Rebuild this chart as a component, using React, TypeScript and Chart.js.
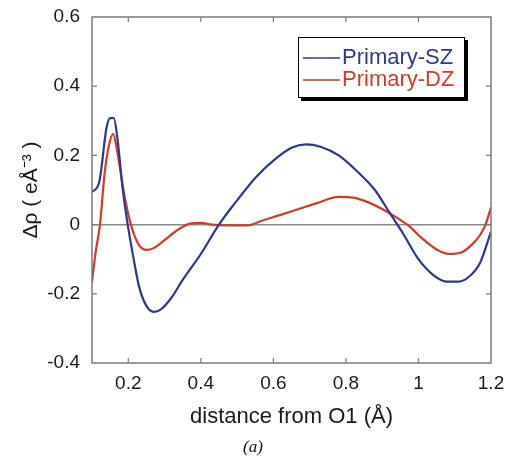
import React, { useEffect, useRef } from "react";
import { Chart, registerables } from "chart.js";

Chart.register(...registerables);

// distance from O1 (Å)
const szX = [0.1, 0.12, 0.14, 0.15, 0.16, 0.17, 0.185, 0.2, 0.215, 0.23, 0.25, 0.27, 0.29, 0.32, 0.35, 0.4, 0.45, 0.5, 0.55, 0.6, 0.65, 0.69, 0.73, 0.78, 0.83, 0.88, 0.92, 0.96, 1.0, 1.04, 1.08, 1.11, 1.14, 1.17, 1.2];
const szY = [0.094, 0.123, 0.28, 0.308, 0.308, 0.25, 0.1, -0.01, -0.1, -0.18, -0.235, -0.252, -0.245, -0.21, -0.16, -0.085, 0.0, 0.07, 0.135, 0.185, 0.222, 0.232, 0.225, 0.2, 0.155, 0.1, 0.035, -0.03, -0.1, -0.145, -0.165, -0.165, -0.15, -0.11, -0.02];

const dzX = [0.1, 0.11, 0.122, 0.135, 0.145, 0.158, 0.17, 0.185, 0.2, 0.213, 0.23, 0.25, 0.27, 0.3, 0.33, 0.37, 0.4, 0.43, 0.47, 0.53, 0.57, 0.62, 0.67, 0.72, 0.78, 0.82, 0.86, 0.9, 0.94, 0.975, 1.01, 1.05, 1.085, 1.12, 1.15, 1.17, 1.185, 1.2];
const dzY = [-0.166, -0.08, 0.0, 0.15, 0.22, 0.262, 0.21, 0.11, 0.03, -0.02, -0.06, -0.073, -0.068, -0.045, -0.02, 0.003, 0.005, 0.0, -0.002, -0.002, 0.012, 0.028, 0.045, 0.062, 0.08, 0.078, 0.065, 0.045, 0.02, -0.005, -0.04, -0.072, -0.085, -0.08, -0.055, -0.03, 0.0, 0.05];

const xTicks = [0.2, 0.4, 0.6, 0.8, 1, 1.2];
const yTicks = [-0.4, -0.2, 0, 0.2, 0.4, 0.6];
const seriesNames = ["Primary-SZ", "Primary-DZ"];
const seriesColors = ["#2b3a8c", "#d8372b"];

const SANS = "'Liberation Sans', Arial, sans-serif";

const framePlugin = {
  id: "frame",
  afterDatasetsDraw(chart: any) {
    const { ctx, chartArea: a, scales } = chart;
    const xs = scales.x;
    const ys = scales.y;
    ctx.save();
    ctx.strokeStyle = "#7a7a7a";
    ctx.lineWidth = 1.5;
    ctx.strokeRect(a.left, a.top, a.right - a.left, a.bottom - a.top);
    ctx.lineWidth = 1.2;
    const tl = 5;
    ctx.beginPath();
    xTicks.forEach((v) => {
      const px = xs.getPixelForValue(v);
      if (px <= a.left + 1 || px >= a.right - 1) return;
      ctx.moveTo(px, a.bottom);
      ctx.lineTo(px, a.bottom - tl);
      ctx.moveTo(px, a.top);
      ctx.lineTo(px, a.top + tl);
    });
    yTicks.forEach((v) => {
      const py = ys.getPixelForValue(v);
      if (py <= a.top + 1 || py >= a.bottom - 1) return;
      ctx.moveTo(a.left, py);
      ctx.lineTo(a.left + tl, py);
      ctx.moveTo(a.right, py);
      ctx.lineTo(a.right - tl, py);
    });
    ctx.stroke();
    ctx.restore();
  },
  afterDraw(chart: any) {
    const { ctx } = chart;
    ctx.save();
    // legend box
    const bx = 298, by = 37, bw = 167, bh = 61;
    ctx.fillStyle = "#000";
    ctx.fillRect(bx + 3, by + 3, bw, bh);
    ctx.fillStyle = "#fff";
    ctx.fillRect(bx, by, bw, bh);
    ctx.strokeStyle = "#000";
    ctx.lineWidth = 1;
    ctx.strokeRect(bx + 0.5, by + 0.5, bw - 1, bh - 1);
    ctx.font = `22px ${SANS}`;
    ctx.textBaseline = "middle";
    ctx.textAlign = "left";
    chart.data.datasets.forEach((ds: any, i: number) => {
      const y = by + 21 + i * 22;
      ctx.strokeStyle = ds.borderColor;
      ctx.lineWidth = 1.5;
      ctx.beginPath();
      ctx.moveTo(bx + 5, y);
      ctx.lineTo(bx + 42, y);
      ctx.stroke();
      ctx.fillStyle = ds.borderColor;
      ctx.fillText(ds.label, bx + 44, y);
    });
    // caption
    ctx.fillStyle = "#111";
    ctx.font = `italic 17px 'Liberation Serif', 'Times New Roman', serif`;
    ctx.textAlign = "center";
    ctx.fillText("(a)", 253, 448);
    ctx.restore();
  },
};

export default function App() {
  const ref = useRef<HTMLCanvasElement>(null);
  useEffect(() => {
    if (!ref.current) return;
    const chart = new Chart(ref.current, {
      type: "line",
      data: {
        datasets: [
          {
            label: seriesNames[0],
            data: szX.map((x, i) => ({ x, y: szY[i] })),
            borderColor: seriesColors[0],
            borderWidth: 2.2,
            pointRadius: 0,
            cubicInterpolationMode: "monotone",
            fill: false,
          },
          {
            label: seriesNames[1],
            data: dzX.map((x, i) => ({ x, y: dzY[i] })),
            borderColor: seriesColors[1],
            borderWidth: 2.2,
            pointRadius: 0,
            cubicInterpolationMode: "monotone",
            fill: false,
          },
        ],
      },
      options: {
        animation: false,
        responsive: false,
        layout: { padding: { left: 0, right: 16, top: 17, bottom: 0 } },
        plugins: { legend: { display: false }, tooltip: { enabled: false } },
        scales: {
          x: {
            type: "linear",
            min: 0.1,
            max: 1.2,
            afterBuildTicks: (s: any) => {
              s.ticks = xTicks.map((v) => ({ value: v }));
            },
            afterFit: (s: any) => {
              s.height = 95;
              s.paddingLeft = 0;
              s.paddingRight = 0;
            },
            grid: { display: false, drawTicks: false },
            border: { display: false },
            ticks: {
              padding: 9,
              color: "#1a1a1a",
              font: { family: SANS, size: 19 },
              maxRotation: 0,
              callback: (v: any) => String(+(+v).toFixed(2)),
            },
            title: {
              display: true,
              text: "distance from O1 (Å)",
              color: "#1a1a1a",
              font: { family: SANS, size: 22 },
              padding: { top: 0, bottom: 28 },
            },
          },
          y: {
            type: "linear",
            min: -0.4,
            max: 0.6,
            afterBuildTicks: (s: any) => {
              s.ticks = yTicks.map((v) => ({ value: v }));
            },
            afterFit: (s: any) => {
              s.width = 92;
              s.paddingTop = 0;
              s.paddingBottom = 0;
            },
            grid: {
              drawTicks: false,
              color: (c: any) => (c.tick && c.tick.value === 0 ? "#8a8a8a" : "rgba(0,0,0,0)"),
              lineWidth: 1.5,
            },
            border: { display: false },
            ticks: {
              padding: 12,
              color: "#1a1a1a",
              font: { family: SANS, size: 19 },
              callback: (v: any) => String(+(+v).toFixed(2)),
            },
            title: {
              display: true,
              text: "Δρ ( eÅ⁻³ )",
              color: "#1a1a1a",
              font: { family: SANS, size: 21 },
              padding: { top: 19, bottom: 0 },
            },
          },
        },
      },
      plugins: [framePlugin],
    });
    return () => chart.destroy();
  }, []);
  return (
    <div style={{ position: "fixed", left: 0, top: 0, width: 507, height: 458, background: "#fff" }}>
      <canvas ref={ref} width={507} height={458} style={{ width: 507, height: 458 }} />
    </div>
  );
}
